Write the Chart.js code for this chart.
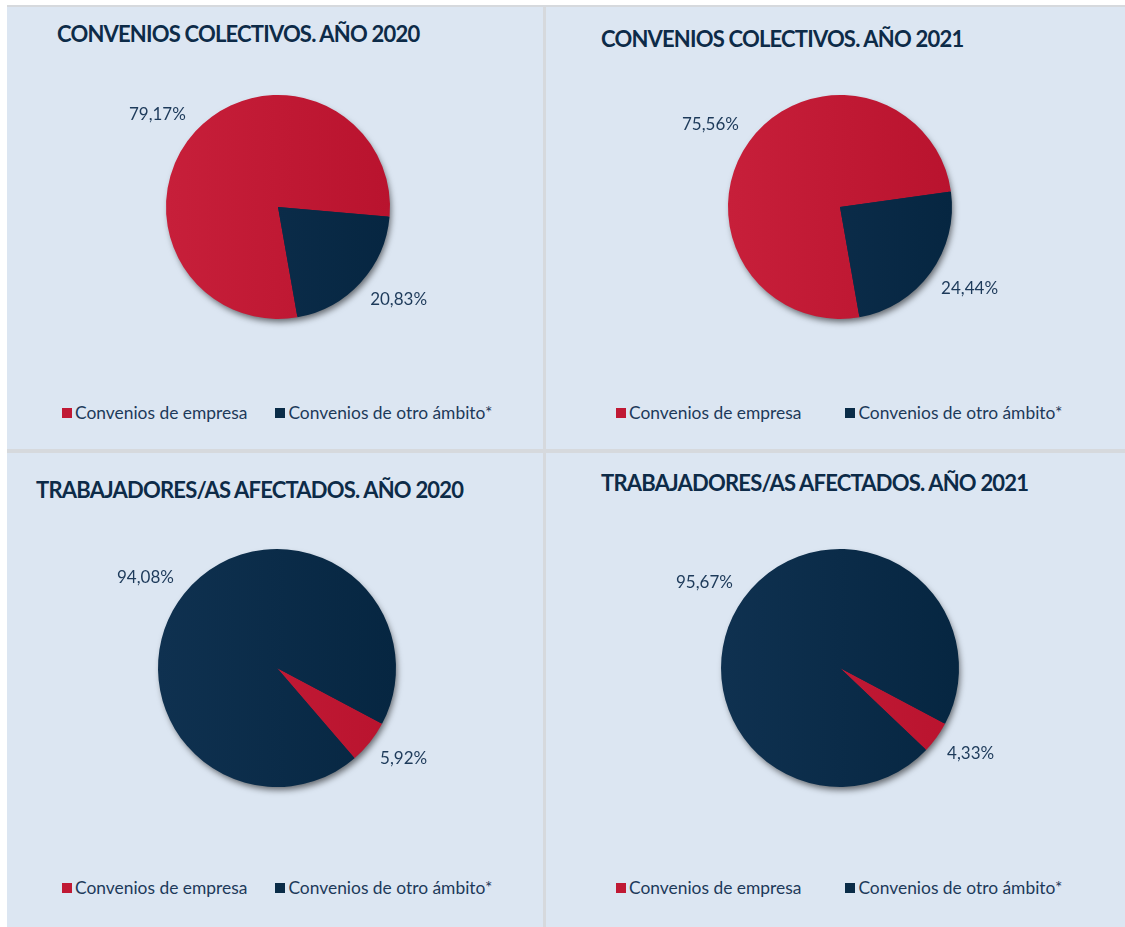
<!DOCTYPE html>
<html lang="es">
<head>
<meta charset="utf-8">
<title>Convenios colectivos 2020-2021</title>
<script src="https://cdn.jsdelivr.net/npm/chart.js@4.4.7/dist/chart.umd.min.js"></script>
<style>
  html, body { margin: 0; padding: 0; background: #ffffff; }
  body { width: 1125px; height: 927px; position: relative; overflow: hidden; font-family: Lato, 'Open Sans', sans-serif; }
  #frame { position: absolute; left: 7px; top: 5px; width: 1118px; height: 922px; background: #d6d9dd; }
  .panel { position: absolute; background: #dce6f2; }
  .panel canvas { position: absolute; left: 0; top: 0; }
  .title { position: absolute; white-space: nowrap; font-weight: 700; font-size: 22px; line-height: 22px; color: #0d2b48; letter-spacing: -0.8px; }
  .legend { position: absolute; display: flex; align-items: center; white-space: nowrap; font-size: 17.4px; color: #1d3a5a; }
  .legend .item { display: flex; align-items: center; }
  .legend .box { width: 10px; height: 10px; margin-right: 3px; }
</style>
</head>
<body>
<div id="frame"></div>
<script>
// ---- Data ----
const categories = ['Convenios de empresa', 'Convenios de otro ámbito*'];
const convenios2020 = [79.17, 20.83];
const convenios2021 = [75.56, 24.44];
const trabajadores2020 = [5.92, 94.08];
const trabajadores2021 = [4.33, 95.67];
const titles = [
  'CONVENIOS COLECTIVOS. AÑO 2020',
  'CONVENIOS COLECTIVOS. AÑO 2021',
  'TRABAJADORES/AS AFECTADOS. AÑO 2020',
  'TRABAJADORES/AS AFECTADOS. AÑO 2021',
];

// Slice colours (light / dark side of the slight horizontal gradient)
const SLICE = [
  { base: '#c01934', light: '#c71f3a', dark: '#b9132e' },
  { base: '#0a2c48', light: '#0f3150', dark: '#062641' },
];

// Panel layout: box in the page, pie centre & radius inside the box, title & legend spots
const PANELS = [
  { data: convenios2020, rotation: 170, x: 7, y: 7, w: 536, h: 442, cx: 271, cy: 200, r: 112, tx: 50, ty: 16, lx: 55, ly: 395, gap: 28 },
  { data: convenios2021, rotation: 170, x: 546, y: 7, w: 579, h: 442, cx: 294, cy: 200, r: 112, tx: 55, ty: 21, lx: 70, ly: 395, gap: 44 },
  { data: trabajadores2020, rotation: 118, x: 7, y: 453, w: 536, h: 474, cx: 270, cy: 215, r: 119, tx: 29, ty: 26, lx: 55, ly: 424, gap: 28 },
  { data: trabajadores2021, rotation: 118, x: 546, y: 453, w: 579, h: 474, cx: 294, cy: 215, r: 119, tx: 55, ty: 19, lx: 70, ly: 424, gap: 44 },
];

function formatPct(v) {
  return v.toFixed(2).replace('.', ',') + '%';
}

// soft drop shadow under the whole pie (drawn before the slices)
const pieShadow = {
  id: 'pieShadow',
  beforeDatasetsDraw(chart) {
    const arc = chart.getDatasetMeta(0).data[0];
    if (!arc) return;
    const { x, y, outerRadius } = arc.getProps(['x', 'y', 'outerRadius'], true);
    const ctx = chart.ctx;
    ctx.save();
    ctx.shadowColor = 'rgba(0, 0, 0, 0.55)';
    ctx.shadowBlur = 6;
    ctx.shadowOffsetX = 2;
    ctx.shadowOffsetY = 4;
    ctx.fillStyle = '#0a2c48';
    ctx.beginPath();
    ctx.arc(x, y, outerRadius - 1, 0, Math.PI * 2);
    ctx.fill();
    ctx.restore();
  },
};

// percentage labels just outside each slice, like Excel "outside end"
const outsideLabels = {
  id: 'outsideLabels',
  afterDatasetsDraw(chart) {
    const ctx = chart.ctx;
    const meta = chart.getDatasetMeta(0);
    const values = chart.data.datasets[0].data;
    ctx.save();
    ctx.font = "17px Lato, 'Open Sans', sans-serif";
    ctx.fillStyle = '#1d3a5a';
    meta.data.forEach((arc, i) => {
      const { x, y, startAngle, endAngle, outerRadius } = arc.getProps(['x', 'y', 'startAngle', 'endAngle', 'outerRadius'], true);
      const mid = (startAngle + endAngle) / 2;
      const dx = Math.cos(mid);
      const dy = Math.sin(mid);
      const d = outerRadius + 13;
      ctx.textAlign = dx < 0 ? 'right' : 'left';
      ctx.textBaseline = dy < 0 ? 'bottom' : 'top';
      ctx.fillText(formatPct(values[i]), x + dx * d, y + dy * d);
    });
    ctx.restore();
  },
};

// slight left-to-right shading inside each slice
function sliceColor(c) {
  const s = SLICE[c.dataIndex % SLICE.length];
  const area = c.chart.chartArea;
  if (!area) return s.base;
  const cx = (area.left + area.right) / 2;
  const r = Math.min(area.width, area.height) / 2;
  const g = c.chart.ctx.createLinearGradient(cx - r, 0, cx + r, 0);
  g.addColorStop(0, s.light);
  g.addColorStop(1, s.dark);
  return g;
}

PANELS.forEach((p, n) => {
  const panel = document.createElement('div');
  panel.className = 'panel';
  panel.style.cssText = `left:${p.x}px;top:${p.y}px;width:${p.w}px;height:${p.h}px;`;
  document.body.appendChild(panel);

  const title = document.createElement('div');
  title.className = 'title';
  title.style.left = p.tx + 'px';
  title.style.top = p.ty + 'px';
  title.textContent = titles[n];
  panel.appendChild(title);

  const legend = document.createElement('div');
  legend.className = 'legend';
  legend.style.left = p.lx + 'px';
  legend.style.top = p.ly + 'px';
  legend.style.gap = p.gap + 'px';
  categories.forEach((label, i) => {
    const item = document.createElement('div');
    item.className = 'item';
    const box = document.createElement('span');
    box.className = 'box';
    box.style.background = SLICE[i].base;
    const txt = document.createElement('span');
    txt.textContent = label;
    item.appendChild(box);
    item.appendChild(txt);
    legend.appendChild(item);
  });
  panel.appendChild(legend);

  const canvas = document.createElement('canvas');
  canvas.width = p.w;
  canvas.height = p.h;
  canvas.style.width = p.w + 'px';
  canvas.style.height = p.h + 'px';
  panel.appendChild(canvas);

  const side = p.r + 38;
  new Chart(canvas, {
    type: 'pie',
    data: {
      labels: categories,
      datasets: [{
        data: p.data,
        backgroundColor: sliceColor,
        borderWidth: 0,
        hoverOffset: 0,
        offset: 0,
      }],
    },
    options: {
      responsive: false,
      animation: false,
      rotation: p.rotation,
      layout: {
        padding: {
          top: p.cy - p.r,
          bottom: p.h - (p.cy + p.r),
          left: p.cx - side,
          right: p.w - (p.cx + side),
        },
      },
      plugins: {
        legend: { display: false },
        tooltip: { enabled: false },
      },
    },
    plugins: [pieShadow, outsideLabels],
  });
});
</script>
</body>
</html>
